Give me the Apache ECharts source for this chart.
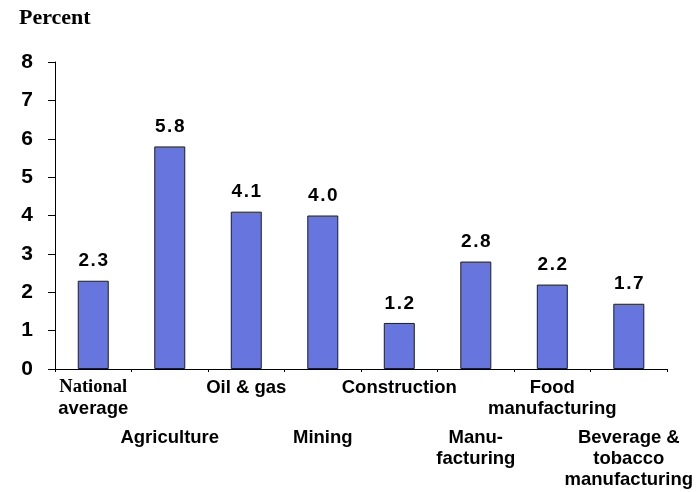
<!DOCTYPE html>
<html>
<head>
<meta charset="utf-8">
<script src="https://cdn.jsdelivr.net/npm/echarts@6/dist/echarts.min.js"></script>
<style>
html,body{margin:0;padding:0;background:#fff;}
#chart{width:696px;height:492px;}
</style>
</head>
<body>
<div id="chart"></div>
<script>
// ---- data ----
var categories = ['National\naverage', 'Agriculture', 'Oil & gas', 'Mining', 'Construction', 'Manu-\nfacturing', 'Food\nmanufacturing', 'Beverage &\ntobacco\nmanufacturing'];
var values = [2.3, 5.8, 4.1, 4.0, 1.2, 2.8, 2.2, 1.7];
var yTicks = [0, 1, 2, 3, 4, 5, 6, 7, 8];
var yTitle = 'Percent';

var chart = echarts.init(document.getElementById('chart'), null, {renderer: 'canvas'});

function catLabel(value, index) {
  var lines = value.split('\n').map(function (l) {
    return (l === 'National') ? '{t|' + l + '}' : '{s|' + l + '}';
  });
  var txt = lines.join('\n');
  if (index % 2 === 1) txt = '{sp| }\n' + txt;
  return txt;
}

var option = {
  animation: false,
  backgroundColor: '#ffffff',
  title: {
    text: yTitle,
    left: 14,
    top: 2,
    textStyle: {fontFamily: 'Liberation Serif', fontWeight: 'bold', fontSize: 22, color: '#000'}
  },
  grid: {left: 55, right: 28, top: 62, bottom: 123, containLabel: false},
  xAxis: {
    type: 'category',
    data: categories,
    axisLine: {show: true, lineStyle: {color: '#000', width: 1}},
    axisTick: {show: true, length: 3, alignWithLabel: false, lineStyle: {color: '#000'}},
    axisLabel: {
      interval: 0,
      margin: 8,
      formatter: catLabel,
      rich: {
        s: {fontFamily: 'Liberation Sans', fontWeight: 'bold', fontSize: 18.5, lineHeight: 21, color: '#000', align: 'center'},
        t: {fontFamily: 'Liberation Serif', fontWeight: 'bold', fontSize: 18.5, lineHeight: 21, color: '#000', align: 'center'},
        sp: {fontSize: 2, lineHeight: 50, align: 'center'}
      }
    }
  },
  yAxis: {
    type: 'value',
    min: yTicks[0],
    max: yTicks[yTicks.length - 1],
    interval: 1,
    splitLine: {show: false},
    axisLine: {show: true, lineStyle: {color: '#000', width: 1}},
    axisTick: {show: true, length: 7, lineStyle: {color: '#000'}},
    axisLabel: {
      margin: 22,
      fontFamily: 'Liberation Sans', fontWeight: 'bold', fontSize: 21, color: '#000'
    }
  },
  series: [{
    type: 'bar',
    data: values,
    barWidth: 31,
    itemStyle: {color: '#6676DE', borderColor: '#1a1a2e', borderWidth: 1},
    label: {
      show: true,
      position: 'top',
      distance: 10,
      fontFamily: 'Liberation Sans', fontWeight: 'bold', fontSize: 19, color: '#000',
      formatter: function (p) { return p.value.toFixed(1).split('').join('\u200A'); }
    }
  }]
};
chart.setOption(option);
</script>
</body>
</html>
